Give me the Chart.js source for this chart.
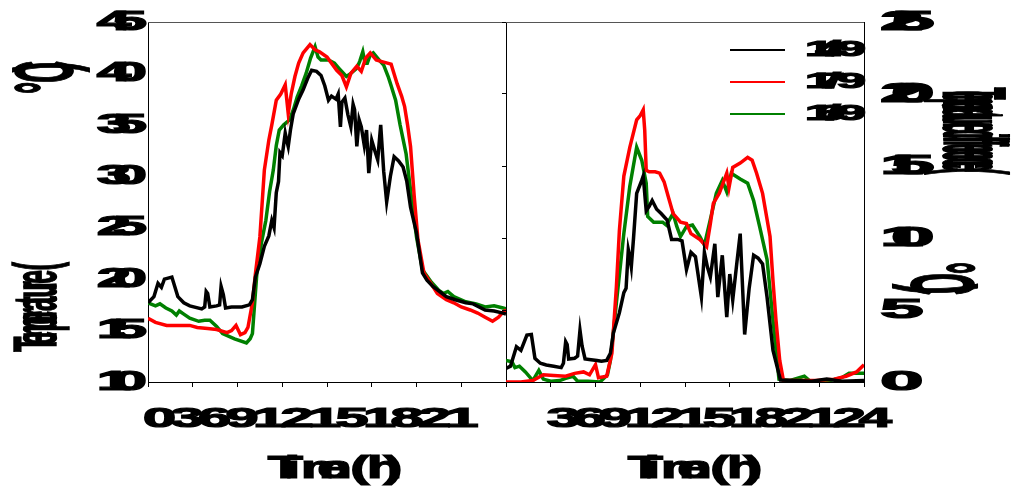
<!DOCTYPE html>
<html lang="en">
<head>
<meta charset="UTF-8">
<title>Temperature</title>
<script src="https://cdn.jsdelivr.net/npm/chart.js"></script>
<style>
    body { margin: 0; background: #fff; }
    #wrap { position: relative; width: 1017px; height: 489px; }
    canvas { position: absolute; left: 0; top: 0; }
</style>
</head>
<body>
<div id="wrap">
    <canvas id="chartLeft" width="1017" height="489"></canvas>
    <canvas id="chartRight" width="1017" height="489"></canvas>
</div>
<script>
// legend / series
const seriesNames = ['14/9', '17/9', '16/9'];
const seriesColors = ['#000000', '#ff0000', '#008000'];

// tick labels
const xTicksLeft = [0, 3, 6, 9, 12, 15, 18, 21];
const xTicksRight = [3, 6, 9, 12, 15, 18, 21, 24];
const yTicksLeft = [10, 15, 20, 25, 30, 35, 40, 45];
const yTicksRight = [0, 5, 10, 15, 20, 25];
const xTitle = 'Time (h)';
const yTitleLeft = ['Temperature (', '°C)'];
const yTitleRight = ['Temperature difference (', '°C)'];

// left panel: temperature (°C)
const tBlackL = [0, 0.4, 0.67, 0.9, 1.1, 1.6, 2.0, 2.4, 2.8, 3.6, 3.8, 3.9, 4.0, 4.15, 4.6, 4.8, 4.9, 5.05, 5.2, 5.6, 5.9, 6.3, 6.8, 7.0, 7.2, 7.5, 7.8, 8.1, 8.3, 8.45, 8.6, 8.75, 8.85, 9.0, 9.2, 9.3, 9.4, 9.55, 9.74, 10.1, 10.4, 10.7, 10.97, 11.3, 11.6, 11.85, 12.1, 12.3, 12.6, 12.75, 12.9, 13.0, 13.2, 13.4, 13.6, 13.75, 13.85, 14.0, 14.15, 14.3, 14.5, 14.65, 14.8, 15.0, 15.2, 15.4, 15.6, 15.8, 16.0, 16.25, 16.5, 16.8, 17.1, 17.35, 17.6, 18.0, 18.4, 18.7, 19.1, 20.0, 20.6, 21.3, 21.8, 22.6, 23.2, 23.8, 24];
const vBlackL = [17.7, 18.3, 19.6, 19.2, 20.0, 20.2, 18.3, 17.7, 17.4, 17.1, 17.3, 18.8, 18.6, 17.3, 17.4, 17.5, 19.3, 18.5, 17.2, 17.3, 17.3, 17.3, 17.5, 18.0, 20.2, 21.5, 23.2, 24.2, 25.7, 25.0, 28.4, 29.5, 32.3, 32.0, 34.2, 33.5, 32.9, 34.5, 36.1, 37.5, 38.4, 39.5, 40.3, 40.2, 39.8, 38.8, 37.4, 37.8, 37.5, 38.0, 34.8, 37.2, 37.6, 36.0, 34.8, 37.0, 36.5, 32.9, 35.5, 34.8, 33.0, 34.5, 30.3, 33.5, 32.5, 31.6, 35.0, 30.5, 27.5, 30.0, 31.9, 31.5, 30.9, 29.5, 27.0, 24.5, 20.6, 19.9, 19.3, 18.3, 18.0, 17.7, 17.6, 17.0, 16.9, 16.7, 16.6];

const tRedL = [0, 0.5, 1.25, 2.0, 2.8, 3.3, 4.0, 4.6, 5.3, 5.6, 5.9, 6.2, 6.5, 6.7, 7.0, 7.2, 7.5, 7.8, 8.1, 8.3, 8.6, 8.9, 9.2, 9.4, 9.6, 9.85, 10.1, 10.4, 10.86, 11.2, 11.5, 12.0, 12.3, 12.65, 13.0, 13.3, 13.6, 14.0, 14.3, 14.6, 14.9, 15.3, 15.8, 16.3, 16.7, 17.0, 17.2, 17.4, 17.6, 17.85, 18.1, 18.5, 19.0, 19.4, 20.0, 20.5, 21.0, 21.6, 22.1, 22.6, 23.1, 23.5, 23.8, 24];
const vRedL = [16.2, 15.8, 15.5, 15.5, 15.5, 15.3, 15.2, 15.1, 14.8, 15.0, 15.5, 14.6, 14.8, 15.3, 17.7, 20.5, 24.1, 30.6, 33.5, 35.0, 37.4, 38.0, 38.9, 36.1, 38.0, 39.7, 41.0, 42.0, 42.8, 42.3, 42.1, 41.6, 41.0, 40.3, 39.8, 38.7, 40.0, 40.7, 40.2, 41.5, 42.0, 41.3, 41.1, 40.9, 39.0, 37.8, 36.8, 35.0, 32.9, 28.0, 23.8, 20.6, 19.5, 18.6, 18.0, 17.7, 17.3, 17.0, 16.7, 16.3, 15.9, 16.3, 16.8, 17.0];

const tGreenL = [0, 0.5, 0.8, 1.2, 1.6, 1.9, 2.1, 2.4, 2.8, 3.4, 3.8, 4.15, 4.6, 5.0, 5.8, 6.6, 6.85, 7.0, 7.3, 7.6, 7.9, 8.15, 8.4, 8.6, 8.8, 9.1, 9.5, 9.75, 10.0, 10.3, 10.6, 10.9, 11.2, 11.4, 11.6, 12.1, 12.5, 12.8, 13.3, 13.6, 14.0, 14.2, 14.4, 14.55, 14.7, 14.9, 15.1, 15.5, 15.8, 16.1, 16.3, 16.6, 16.9, 17.3, 17.7, 18.0, 18.4, 19.0, 19.5, 19.8, 20.1, 20.5, 21.3, 22.0, 22.6, 23.2, 23.8, 24];
const vGreenL = [17.7, 17.4, 17.6, 17.2, 16.9, 16.5, 16.9, 16.6, 16.2, 15.9, 16.0, 16.0, 15.4, 14.7, 14.2, 13.8, 14.2, 14.7, 20.6, 23.5, 25.7, 28.5, 30.6, 33.0, 34.5, 35.0, 35.5, 36.5, 37.7, 38.8, 40.0, 41.5, 42.6, 41.6, 41.3, 41.3, 41.0, 40.5, 39.7, 40.0, 40.5, 41.2, 42.1, 41.0, 41.0, 41.8, 42.0, 41.3, 40.8, 39.7, 38.8, 37.4, 35.0, 32.2, 27.5, 24.1, 20.9, 19.7, 18.9, 18.6, 18.8, 18.3, 17.8, 17.6, 17.3, 17.4, 17.2, 17.1];

// right panel: temperature difference (°C)
const tBlackR = [0, 0.3, 0.7, 1.0, 1.4, 1.7, 1.94, 2.3, 2.7, 3.2, 3.7, 3.85, 4.0, 4.1, 4.2, 4.6, 4.8, 4.96, 5.1, 5.3, 5.7, 6.1, 6.4, 6.75, 7.0, 7.2, 7.6, 7.9, 8.05, 8.2, 8.3, 8.4, 8.55, 8.76, 9.1, 9.2, 9.4, 9.6, 9.8, 10.1, 10.4, 10.8, 11.1, 11.5, 11.8, 12.1, 12.4, 12.7, 13.1, 13.3, 13.5, 13.7, 14.0, 14.2, 14.5, 14.8, 15.0, 15.2, 15.5, 15.7, 16.0, 16.3, 16.6, 16.9, 17.2, 17.5, 17.9, 18.4, 19.3, 20.5, 21.5, 22.5, 24];
const vBlackR = [0.95, 1.1, 2.45, 2.2, 3.26, 3.3, 1.64, 1.3, 1.18, 1.1, 1.0, 1.3, 2.8, 2.6, 1.6, 1.65, 1.8, 3.6, 2.5, 1.6, 1.55, 1.5, 1.45, 1.5, 2.0, 3.4, 4.8, 6.2, 6.5, 9.2, 8.7, 8.0, 10.0, 13.1, 14.0, 14.3, 11.9, 12.2, 12.6, 12.0, 11.7, 11.25, 9.9, 9.9, 9.8, 7.8, 9.0, 8.7, 5.9, 9.0, 8.0, 7.3, 9.6, 5.9, 8.8, 4.5, 7.5, 5.7, 8.5, 10.3, 3.3, 6.5, 8.8, 8.6, 8.2, 5.9, 2.2, 0.14, 0.1, 0.05, 0.2, 0.05, 0.1];

const tRedR = [0, 1.0, 1.8, 2.5, 3.2, 4.0, 4.6, 5.2, 5.6, 6.0, 6.2, 6.75, 7.1, 7.4, 7.6, 7.9, 8.3, 8.76, 9.0, 9.2, 9.3, 9.4, 9.6, 10.0, 10.3, 10.6, 10.9, 11.2, 11.7, 12.1, 12.4, 13.0, 13.45, 13.7, 13.9, 14.3, 14.8, 14.95, 15.2, 15.7, 16.2, 16.5, 16.8, 17.2, 17.7, 17.9, 18.1, 18.35, 18.6, 19.5, 20.8, 22.0, 22.8, 23.5, 24];
const vRedR = [0.0, 0.0, 0.1, 0.5, 0.45, 0.4, 0.6, 0.7, 0.5, 1.2, 0.3, 0.4, 2.0, 6.6, 10.5, 14.3, 16.3, 18.2, 18.5, 18.9, 17.5, 14.7, 14.6, 14.6, 14.5, 13.9, 12.8, 11.7, 11.1, 11.0, 10.3, 9.9, 9.4, 11.0, 12.4, 13.1, 14.5, 13.5, 14.9, 15.2, 15.6, 15.4, 14.5, 13.1, 10.1, 7.0, 4.3, 1.5, 0.1, 0.1, 0.1, 0.2, 0.4, 0.7, 1.2];

const tGreenR = [0, 0.4, 0.6, 0.9, 1.3, 1.8, 2.2, 2.5, 3.0, 3.6, 4.0, 4.5, 4.8, 5.5, 6.3, 6.8, 7.0, 7.4, 7.9, 8.3, 8.76, 9.1, 9.4, 9.5, 9.9, 10.5, 10.75, 11.2, 11.45, 11.7, 12.1, 12.5, 13.0, 13.3, 13.7, 14.1, 14.5, 14.8, 15.1, 15.7, 16.2, 16.6, 17.0, 17.5, 17.9, 18.3, 19.0, 20.0, 20.4, 21.5, 22.5, 23.0, 24];
const vGreenR = [1.5, 1.4, 1.0, 1.1, 0.7, 0.1, 0.8, 0.2, 0.05, 0.1, 0.25, 0.4, 0.05, 0.05, 0.0, 0.5, 1.5, 5.5, 10.3, 13.6, 16.3, 15.4, 13.8, 11.5, 11.1, 11.1, 10.9, 11.7, 10.8, 10.1, 10.8, 10.9, 10.1, 9.5, 11.3, 13.1, 14.0, 13.2, 14.5, 14.1, 13.8, 12.6, 10.8, 8.5, 4.3, 0.2, 0.1, 0.4, 0.05, 0.05, 0.3, 0.6, 0.6];

function pts(ts, vs) {
    return ts.map(function (t, i) { return { x: t, y: vs[i] }; });
}

function makeSets(list) {
    return list.map(function (s, i) {
        return {
            label: seriesNames[i],
            data: pts(s[0], s[1]),
            borderColor: seriesColors[i],
            borderWidth: 3.5,
            pointRadius: 0,
            tension: 0,
            fill: false
        };
    });
}

// draws bold text where every glyph is stretched and glyphs overlap
function drawSquashed(ctx, text, x, y, o) {
    ctx.save();
    ctx.translate(x, y);
    if (o.rot) ctx.rotate(o.rot);
    ctx.font = 'bold ' + o.size + 'px "Liberation Sans", Arial, sans-serif';
    ctx.textBaseline = o.baseline || 'alphabetic';
    ctx.textAlign = 'left';
    ctx.fillStyle = '#000';
    ctx.strokeStyle = '#000';
    const chars = Array.from(text);
    const sx = o.sx || 1, sy = o.sy || 1;
    const widths = chars.map(function (c) { return ctx.measureText(c).width * sx; });
    const adv = chars.map(function (c, i) { return o.adv != null ? o.adv : widths[i]; });
    let total = widths[chars.length - 1];
    for (let i = 0; i < chars.length - 1; i++) total += adv[i];
    let pos = o.align === 'right' ? -total : (o.align === 'center' ? -total / 2 : 0);
    chars.forEach(function (c, i) {
        ctx.save();
        ctx.translate(pos, 0);
        ctx.scale(sx, sy);
        ctx.fillText(c, 0, 0);
        if (o.stroke) { ctx.lineWidth = o.stroke; ctx.strokeText(c, 0, 0); }
        ctx.restore();
        pos += adv[i];
    });
    ctx.restore();
}

const frame = {
    id: 'frame',
    afterDraw: function (chart) {
        const a = chart.chartArea;
        const ctx = chart.ctx;
        ctx.save();
        ctx.strokeStyle = '#555';
        ctx.lineWidth = 1;
        ctx.beginPath();
        ctx.moveTo(a.left, a.top + 0.5);
        ctx.lineTo(a.right, a.top + 0.5);
        ctx.stroke();
        ctx.restore();
    }
};

const leftText = {
    id: 'leftText',
    afterDraw: function (chart) {
        const ctx = chart.ctx;
        const a = chart.chartArea;
        const ys = chart.scales.y;
        const xs = chart.scales.x;
        yTicksLeft.forEach(function (v) {
            drawSquashed(ctx, String(v), a.left - 1, ys.getPixelForValue(v),
                { size: 28, sx: 2.2, adv: 16, align: 'right', baseline: 'middle', stroke: 1.2 });
        });
        drawSquashed(ctx, xTicksLeft.join(''), xs.getPixelForValue(xTicksLeft[0]) - 5, 427,
            { size: 27, sx: 2.2, adv: 27.5, stroke: 1.2 });
        drawSquashed(ctx, xTitle, (a.left + a.right) / 2 + 8, 478,
            { size: 32, sx: 1.8, adv: 16.5, align: 'center', stroke: 1.2 });
        drawSquashed(ctx, yTitleLeft[0], 56, 307,
            { size: 34, sx: 0.75, sy: 1.8, adv: 6.8, align: 'center', rot: -Math.PI / 2, stroke: 0.8 });
        drawSquashed(ctx, yTitleLeft[1], 72, 78,
            { size: 34, sx: 0.9, sy: 2.4, adv: 11, align: 'center', rot: -Math.PI / 2, stroke: 0.8 });
    }
};

const rightText = {
    id: 'rightText',
    afterDraw: function (chart) {
        const ctx = chart.ctx;
        const a = chart.chartArea;
        const ys = chart.scales.y;
        const xs = chart.scales.x;
        yTicksRight.forEach(function (v) {
            drawSquashed(ctx, String(v), a.right + 16, ys.getPixelForValue(v),
                { size: 28, sx: 2.8, adv: 11, baseline: 'middle', stroke: 1.2 });
        });
        drawSquashed(ctx, xTicksRight.join(''), xs.getPixelForValue(xTicksRight[0]) - 4, 427,
            { size: 27, sx: 2.2, adv: 26, stroke: 1.2 });
        drawSquashed(ctx, xTitle, (a.left + a.right) / 2 + 10, 478,
            { size: 32, sx: 1.8, adv: 16.5, align: 'center', stroke: 1.2 });
        drawSquashed(ctx, yTitleRight[0], 944, 131,
            { size: 34, sx: 0.6, sy: 2.6, adv: 3.5, align: 'center', rot: Math.PI / 2, stroke: 0.8 });
        drawSquashed(ctx, yTitleRight[1], 912, 278,
            { size: 34, sx: 0.9, sy: 2.6, adv: 11, align: 'center', rot: Math.PI / 2, stroke: 0.8 });

        // legend
        chart.data.datasets.forEach(function (ds, i) {
            const y = 50 + i * 32;
            ctx.save();
            ctx.strokeStyle = ds.borderColor;
            ctx.lineWidth = 2;
            ctx.beginPath();
            ctx.moveTo(730, y);
            ctx.lineTo(785, y);
            ctx.stroke();
            ctx.restore();
            drawSquashed(ctx, ds.label, 805, y,
                { size: 22, sx: 2.4, adv: 10.5, baseline: 'middle', stroke: 1.2 });
        });
    }
};

function xAxis(min, max) {
    return {
        type: 'linear', min: min, max: max,
        ticks: { display: false, stepSize: 3 },
        grid: { drawOnChartArea: false, drawTicks: true, tickLength: 5, color: '#000' },
        border: { color: '#000', width: 1 }
    };
}

new Chart(document.getElementById('chartLeft'), {
    type: 'line',
    data: { datasets: makeSets([[tBlackL, vBlackL], [tRedL, vRedL], [tGreenL, vGreenL]]) },
    options: {
        responsive: false,
        animation: false,
        events: [],
        layout: { padding: { left: 148, right: 511, top: 22, bottom: 102 } },
        plugins: { legend: { display: false }, tooltip: { enabled: false } },
        scales: {
            x: xAxis(0, 24),
            y: {
                min: 10, max: 45,
                ticks: { display: false, stepSize: 5 },
                grid: { drawOnChartArea: false, drawTicks: false },
                border: { color: '#000', width: 1 }
            }
        }
    },
    plugins: [frame, leftText]
});

new Chart(document.getElementById('chartRight'), {
    type: 'line',
    data: { datasets: makeSets([[tBlackR, vBlackR], [tRedR, vRedR], [tGreenR, vGreenR]]) },
    options: {
        responsive: false,
        animation: false,
        events: [],
        layout: { padding: { left: 502, right: 153, top: 22, bottom: 102 } },
        plugins: { legend: { display: false }, tooltip: { enabled: false } },
        scales: {
            x: xAxis(0, 24),
            yl: {
                position: 'left',
                min: 0, max: 25,
                ticks: { display: false, stepSize: 5 },
                grid: { drawOnChartArea: false, drawTicks: true, tickLength: 4, color: '#000' },
                border: { color: '#000', width: 1 }
            },
            y: {
                position: 'right',
                min: 0, max: 25,
                ticks: { display: false, stepSize: 5 },
                grid: { drawOnChartArea: false, drawTicks: false },
                border: { color: '#000', width: 1 }
            }
        }
    },
    plugins: [frame, rightText]
});
</script>
</body>
</html>
